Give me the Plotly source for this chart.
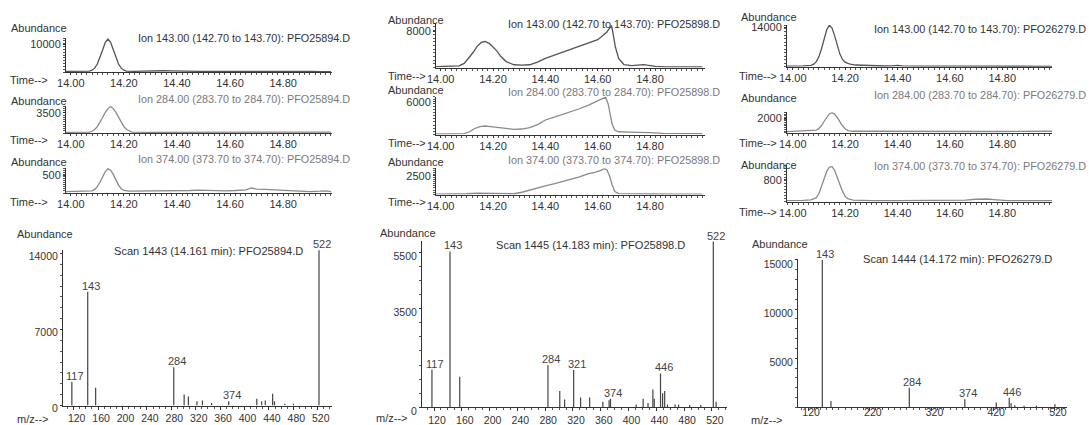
import plotly.graph_objects as go

W, H = 1089, 425
FONT = "Liberation Sans, Arial, sans-serif"
INK = "#333333"

# ---------------- data: extracted ion chromatograms ----------------
# column 1 : PFO25894.D
t1a = [13.98, 14.00, 14.03, 14.06, 14.07, 14.08, 14.09, 14.10, 14.11, 14.12, 14.13, 14.14, 14.15, 14.16, 14.17,
       14.18, 14.19, 14.20, 14.21, 14.22, 14.24, 14.27, 14.30, 14.32, 14.35, 14.38, 14.42, 14.48, 14.55, 14.60,
       14.64, 14.67, 14.70, 14.75, 14.80, 14.85, 14.90, 14.95, 14.98]
v1a = [250, 250, 250, 250, 350, 650, 1400, 2900, 5200, 8000, 10800, 12000, 10800, 8000, 5200,
       2900, 1400, 650, 350, 250, 250, 300, 450, 500, 450, 400, 300, 250, 250, 250,
       300, 450, 300, 250, 200, 200, 200, 150, 150]
t1b = [13.98, 14.03, 14.07, 14.08, 14.09, 14.10, 14.11, 14.12, 14.13, 14.14, 14.15, 14.16, 14.17, 14.18, 14.19,
       14.20, 14.21, 14.22, 14.23, 14.30, 14.40, 14.50, 14.60, 14.70, 14.80, 14.90, 14.98]
v1b = [120, 120, 150, 300, 600, 1100, 1800, 2700, 3600, 4250, 4600, 4250, 3600, 2700, 1800,
       1100, 600, 300, 150, 120, 120, 150, 150, 150, 130, 130, 150]
t1c = [13.98, 14.02, 14.05, 14.08, 14.09, 14.10, 14.11, 14.12, 14.13, 14.14, 14.15, 14.16, 14.17, 14.18, 14.19,
       14.20, 14.22, 14.30, 14.40, 14.45, 14.48, 14.52, 14.58, 14.62, 14.66, 14.68, 14.70, 14.73, 14.78, 14.82,
       14.86, 14.90, 14.94, 14.96, 14.98]
v1c = [40, 50, 40, 60, 100, 180, 300, 450, 600, 680, 640, 520, 360, 220, 120,
       70, 50, 50, 50, 70, 80, 70, 60, 70, 90, 140, 110, 100, 80, 60,
       40, 40, 50, 60, 40]

# column 2 : PFO25898.D
t2a = [13.98, 14.00, 14.04, 14.07, 14.09, 14.11, 14.125, 14.14, 14.155, 14.17, 14.185, 14.20, 14.215, 14.23,
       14.25, 14.28, 14.31, 14.34, 14.37, 14.40, 14.44, 14.47, 14.50, 14.52, 14.55, 14.58, 14.60, 14.62, 14.635,
       14.645, 14.653, 14.66, 14.667, 14.68, 14.70, 14.73, 14.76, 14.775, 14.79, 14.82, 14.86, 14.92, 15.00]
v2a = [200, 200, 250, 350, 900, 2200, 3400, 4700, 5500, 5700, 5300, 4500, 3600, 2400,
       1300, 600, 500, 600, 1200, 2000, 2800, 3400, 4000, 4500, 5000, 5600, 6100, 7000, 7800,
       8600, 9200, 7000, 4600, 2000, 650, 400, 550, 650, 500, 250, 150, 150, 150]
t2b = [13.98, 14.05, 14.09, 14.11, 14.13, 14.15, 14.17, 14.19, 14.22, 14.25, 14.28, 14.31, 14.34, 14.37, 14.40,
       14.44, 14.47, 14.50, 14.53, 14.565, 14.59, 14.615, 14.63, 14.64, 14.648, 14.655, 14.665, 14.68, 14.72,
       14.76, 14.80, 14.85, 14.92, 15.00]
v2b = [100, 100, 150, 500, 1100, 1450, 1550, 1450, 1250, 1050, 950, 1000, 1250, 1800, 2650,
       3250, 3700, 4150, 4700, 5350, 5900, 6400, 6800, 5600, 3400, 1900, 800, 500, 450,
       450, 350, 200, 150, 150]
t2c = [13.98, 14.05, 14.10, 14.14, 14.17, 14.20, 14.24, 14.28, 14.31, 14.34, 14.37, 14.40, 14.44, 14.47, 14.50,
       14.53, 14.565, 14.59, 14.61, 14.625, 14.635, 14.645, 14.655, 14.665, 14.68, 14.72, 14.80, 14.90, 15.00]
v2c = [50, 60, 100, 180, 170, 120, 80, 100, 300, 550, 850, 1150, 1500, 1750, 2050,
       2350, 2800, 2950, 3200, 3450, 3300, 2500, 1300, 400, 120, 80, 70, 60, 60]

# column 3 : PFO26279.D
t3a = [13.978, 14.00, 14.04, 14.07, 14.08, 14.09, 14.10, 14.11, 14.12, 14.13, 14.14, 14.15, 14.16, 14.17, 14.18,
       14.19, 14.20, 14.21, 14.22, 14.24, 14.27, 14.30, 14.35, 14.38, 14.40, 14.42, 14.46, 14.50, 14.60, 14.70,
       14.74, 14.77, 14.80, 14.85, 14.90, 14.99]
v3a = [200, 200, 300, 500, 900, 1800, 3600, 6500, 10000, 13300, 14800, 13800, 11000, 7500, 4500,
       2600, 1600, 1200, 900, 600, 450, 350, 250, 300, 450, 300, 200, 200, 200, 200,
       250, 400, 250, 150, 150, 150]
t3b = [13.978, 14.00, 14.03, 14.05, 14.07, 14.09, 14.10, 14.11, 14.12, 14.13, 14.14, 14.15, 14.16, 14.17, 14.18,
       14.19, 14.20, 14.21, 14.23, 14.30, 14.40, 14.50, 14.60, 14.70, 14.80, 14.90, 14.99]
v3b = [150, 180, 220, 260, 230, 350, 600, 1000, 1600, 2200, 2650, 2800, 2600, 2100, 1500,
       950, 550, 300, 200, 180, 180, 170, 170, 170, 170, 170, 200]
t3c = [13.978, 14.00, 14.04, 14.07, 14.09, 14.10, 14.11, 14.12, 14.13, 14.14, 14.15, 14.16, 14.17, 14.18, 14.19,
       14.20, 14.21, 14.23, 14.30, 14.40, 14.50, 14.60, 14.66, 14.70, 14.74, 14.78, 14.82, 14.90, 14.99]
v3c = [40, 40, 50, 70, 150, 300, 550, 850, 1120, 1270, 1290, 1150, 900, 620, 380,
       200, 110, 60, 40, 40, 40, 40, 60, 90, 100, 70, 40, 40, 40]

# ---------------- data: mass spectra ----------------
mz1 = [117, 143, 156, 284, 301, 308, 322, 331, 346, 374, 420, 428, 434, 446, 449, 466, 480, 522]
ab1 = [2190, 10480, 1640, 3520, 1020, 830, 400, 460, 220, 400, 620, 400, 460, 1080, 400, 150, 150, 14300]
lab1 = [117, 143, 284, 374, 522]

mz2 = [117, 143, 157, 284, 301, 308, 321, 331, 344, 363, 372, 374, 411, 421, 428, 435, 437, 446, 449, 452,
       456, 467, 472, 488, 504, 522, 526]
ab2 = [1340, 5530, 1080, 1490, 575, 280, 1320, 350, 350, 200, 250, 300, 100, 300, 150, 635, 300, 1200, 495, 575,
       100, 100, 100, 80, 80, 5880, 200]
lab2 = [117, 143, 284, 321, 374, 446, 522]

mz3 = [143, 157, 284, 374, 425, 446, 449, 455, 470, 490, 520]
ab3 = [15000, 640, 1990, 810, 500, 980, 400, 200, 150, 150, 300]
lab3 = [143, 284, 374, 446]

time_ticks = [14.0, 14.2, 14.4, 14.6, 14.8]
time_ticktext = ["14.00", "14.20", "14.40", "14.60", "14.80"]

# ---------------- layout helpers ----------------
def fx(x):
    return x / W


def fy(y):
    return 1 - y / H


layout = dict(width=W, height=H, margin=dict(l=0, r=0, t=0, b=0, pad=0), autosize=False,
              paper_bgcolor="white", plot_bgcolor="white", showlegend=False,
              font=dict(family=FONT, size=11, color=INK))
annotations = []
fig = go.Figure()

axis_common = dict(showline=True, linecolor="#333", linewidth=1, showgrid=False, zeroline=False,
                   tickcolor="#333", tickfont=dict(family=FONT, size=11, color=INK), fixedrange=True,
                   automargin=False, tickformat="d")


def axis_names(i):
    return ("xaxis" if i == 1 else f"xaxis{i}", "yaxis" if i == 1 else f"yaxis{i}",
            "x" if i == 1 else f"x{i}", "y" if i == 1 else f"y{i}")


def text(x, y, s, size=11, color=INK, xanchor="center"):
    annotations.append(dict(x=fx(x), y=fy(y), xref="paper", yref="paper", text=s, showarrow=False,
                            xanchor=xanchor, yanchor="middle", font=dict(family=FONT, size=size, color=color)))


# chromatogram panels: (t, v, box(l,r,top,bottom), xrange, ymax, ytick, ytick label shift, title, title_y,
#                       title_right, abund (x,y), time (x,y), dark)
chroms = [
    (t1a, v1a, (66, 332, 38, 72), [13.982, 14.984], 12400, 10000, 0, "Ion 143.00 (142.70 to 143.70): PFO25894.D", 38, 352, (39, 27.7), (29, 80), True),
    (t1b, v1b, (66, 332, 106, 133), [13.982, 14.984], 4700, 3500, 0, "Ion 284.00 (283.70 to 284.70): PFO25894.D", 99.3, 352, (39, 101), (29, 140), False),
    (t1c, v1c, (66, 332, 168, 193), [13.982, 14.984], 700, 500, 0, "Ion 374.00 (373.70 to 374.70): PFO25894.D", 159.3, 352, (39, 161.7), (29, 202), False),
    (t2a, v2a, (436, 705, 23.3, 67.5), [13.982, 15.01], 9700, 8000, 0, "Ion 143.00 (142.70 to 143.70): PFO25898.D", 24, 722, (416, 20), (407, 76), True),
    (t2b, v2b, (436, 705, 96.7, 134.5), [13.982, 15.01], 6900, 6000, 1, "Ion 284.00 (283.70 to 284.70): PFO25898.D", 91.7, 722, (416, 90.5), (407, 143.3), False),
    (t2c, v2c, (436, 705, 168.3, 194.5), [13.982, 15.01], 3500, 2500, 0, "Ion 374.00 (373.70 to 374.70): PFO25898.D", 160, 722, (416, 161.7), (407, 201.7), False),
    (t3a, v3a, (787, 1052, 25, 66.7), [13.978, 14.99], 14900, 14000, 0, "Ion 143.00 (142.70 to 143.70): PFO26279.D", 29, 1088, (769, 17), (758, 76), True),
    (t3b, v3b, (787, 1052, 112.3, 132.7), [13.978, 14.99], 2850, 2000, 0, "Ion 284.00 (283.70 to 284.70): PFO26279.D", 95, 1088, (769, 98.3), (758, 143.3), False),
    (t3c, v3c, (787, 1052, 165, 201.7), [13.978, 14.99], 1350, 800, 0, "Ion 374.00 (373.70 to 374.70): PFO26279.D", 165.7, 1088, (769, 165), (758, 211.7), False),
]

i = 0
for (t, v, box, xr, ymax, ytick, ysh, title, ty, tr, ab, tm, dark) in chroms:
    i += 1
    xn, yn, xr_, yr_ = axis_names(i)
    l, r, top, bot = box
    layout[xn] = dict(axis_common, domain=[fx(l), fx(r)], range=xr, anchor=yr_,
                      tickvals=time_ticks, ticktext=time_ticktext, ticks="outside", ticklen=2,
                      ticklabelstandoff=-1,
                      minor=dict(dtick=0.02, tick0=14.0, ticks="outside", ticklen=2, tickcolor="#555"))
    layout[yn] = dict(axis_common, domain=[fy(bot), fy(top)], range=[0, ymax], anchor=xr_,
                      tickvals=[ytick], ticks="outside", ticklen=2, ticklabelshift=ysh,
                      minor=dict(dtick=ymax / 12.0, ticks="outside", ticklen=2, tickcolor="#555"))
    fig.add_trace(go.Scatter(x=t, y=v, mode="lines", xaxis=xr_, yaxis=yr_, hoverinfo="skip",
                             line=dict(color="#555" if dark else "#8a8a8a", width=1.3)))
    text(tr, ty, title, size=10.85, color="#333" if dark else "#7a7a7a", xanchor="right")
    text(ab[0], ab[1], "Abundance")
    text(tm[0], tm[1], "Time-->")

# spectrum panels
spectra = [
    (mz1, ab1, lab1, (63, 332, 250, 405.5), [102.5, 543.3], 14320, [0, 7000, 14000], 1000, 3, 0,
     [120, 160, 200, 240, 280, 320, 360, 400, 440, 480, 520], "Scan 1443 (14.161 min): PFO25894.D", (208, 251), (45, 234), (32, 419)),
    (mz2, ab2, lab2, (422, 727, 241, 407.3), [102.7, 541.7], 5900, [0, 3500, 5500], 500, 4, 0,
     [120, 160, 200, 240, 280, 320, 360, 400, 440, 480, 520], "Scan 1445 (14.183 min): PFO25898.D", (590, 245), (407.5, 233.3), (391, 418)),
    (mz3, ab3, lab3, (798, 1067, 259, 407.3), [103.6, 539.6], 15100, [5000, 10000, 15000], 1000, 4, -8,
     [120, 220, 320, 420, 520], "Scan 1444 (14.172 min): PFO26279.D", (957, 259.3), (780, 244), (766, 420)),
]

for (mz, ab, labs, box, xr, ymax, yt, ymin_dt, yshift_lab, xstand, xt, title, tpos, apos, mpos) in spectra:
    i += 1
    xn, yn, xr_, yr_ = axis_names(i)
    l, r, top, bot = box
    layout[xn] = dict(axis_common, domain=[fx(l), fx(r)], range=xr, anchor=yr_,
                      tickvals=xt, ticks="outside", ticklen=3, ticklabelshift=3, ticklabelstandoff=xstand,
                      tickfont=dict(family=FONT, size=10.5, color=INK),
                      minor=dict(dtick=10, tick0=0, ticks="outside", ticklen=2, tickcolor="#555"))
    layout[yn] = dict(axis_common, domain=[fy(bot), fy(top)], range=[0, ymax], anchor=xr_,
                      tickvals=yt, ticks="outside", ticklen=2, ticklabelshift=yshift_lab,
                      tickfont=dict(family=FONT, size=10.5, color=INK),
                      minor=dict(dtick=ymin_dt, ticks="outside", ticklen=2, tickcolor="#555"))
    xs, ys = [], []
    for m, a in zip(mz, ab):
        xs += [m, m, None]
        ys += [0, a, None]
    fig.add_trace(go.Scatter(x=xs, y=ys, mode="lines", xaxis=xr_, yaxis=yr_, hoverinfo="skip",
                             line=dict(color="#444", width=1.2), cliponaxis=False))
    for lb in labs:
        a = ab[mz.index(lb)]
        annotations.append(dict(x=lb, y=a, xref=xr_, yref=yr_, text=str(lb), showarrow=False,
                                xanchor="center", yanchor="bottom", xshift=3, yshift=-2,
                                font=dict(family=FONT, size=11, color="#444")))
    text(tpos[0], tpos[1], title, size=11.1)
    text(apos[0], apos[1], "Abundance")
    text(mpos[0], mpos[1], "m/z-->")

layout["annotations"] = annotations
fig.update_layout(**layout)
fig.write_html("out.html", config={"displayModeBar": False, "staticPlot": True},
               post_script="document.body.style.margin='0';document.body.style.padding='0';"
                           "document.documentElement.style.overflow='hidden';")
